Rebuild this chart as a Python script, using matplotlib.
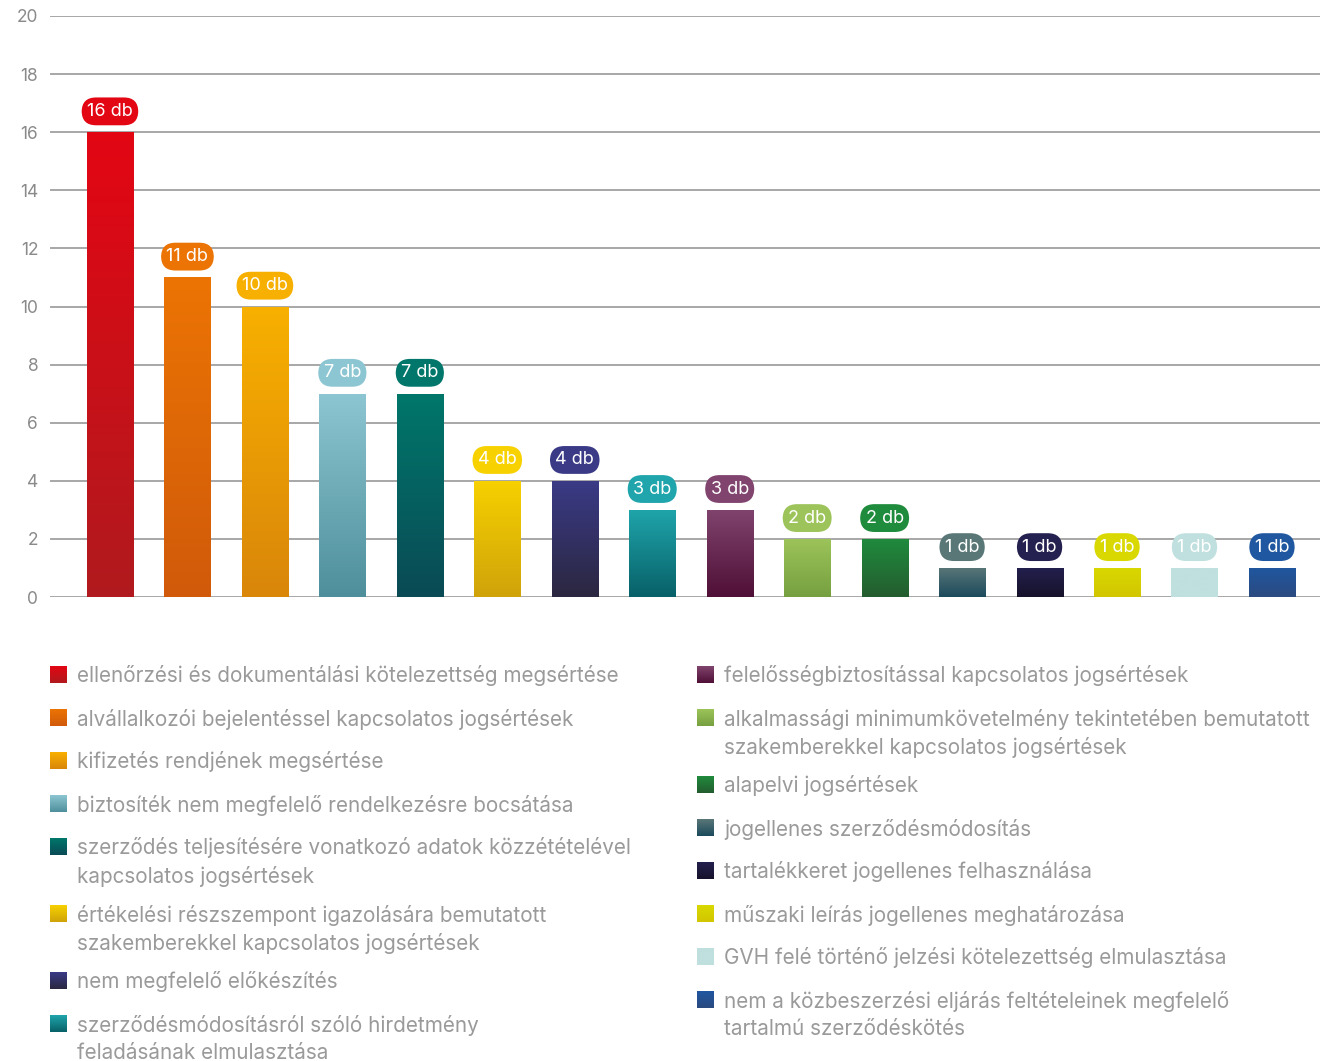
import numpy as np
import matplotlib.pyplot as plt
from matplotlib.colors import LinearSegmentedColormap

plt.rcParams['font.family'] = ['Inter', 'DejaVu Sans']

# ── Adatok ────────────────────────────────────────────────
categories = [
    "ellenőrzési és dokumentálási kötelezettség megsértése",
    "alvállalkozói bejelentéssel kapcsolatos jogsértések",
    "kifizetés rendjének megsértése",
    "biztosíték nem megfelelő rendelkezésre bocsátása",
    "szerződés teljesítésére vonatkozó adatok közzétételével\nkapcsolatos jogsértések",
    "értékelési részszempont igazolására bemutatott\nszakemberekkel kapcsolatos jogsértések",
    "nem megfelelő előkészítés",
    "szerződésmódosításról szóló hirdetmény\nfeladásának elmulasztása",
    "felelősségbiztosítással kapcsolatos jogsértések",
    "alkalmassági minimumkövetelmény tekintetében bemutatott\nszakemberekkel kapcsolatos jogsértések",
    "alapelvi jogsértések",
    "jogellenes szerződésmódosítás",
    "tartalékkeret jogellenes felhasználása",
    "műszaki leírás jogellenes meghatározása",
    "GVH felé történő jelzési kötelezettség elmulasztása",
    "nem a közbeszerzési eljárás feltételeinek megfelelő\ntartalmú szerződéskötés",
]
values = [16, 11, 10, 7, 7, 4, 4, 3, 3, 2, 2, 1, 1, 1, 1, 1]
labels = [f"{v} db" for v in values]

top_colors = ["#e30613", "#ec7404", "#f8b000", "#8cc6d2", "#00776a", "#f7d100",
              "#3a3a87", "#1fa5ab", "#80446e", "#9dc45a", "#1f8b3d", "#5a7778",
              "#24204f", "#d9d800", "#bfe0de", "#1f57a0"]
bottom_colors = ["#b01a1e", "#d05a0a", "#d9860a", "#4e8f9b", "#0a4a55", "#cfa30a",
                 "#2b2740", "#086068", "#4f0f36", "#76a040", "#245c2f", "#1b4a5c",
                 "#16122a", "#d2c600", "#bfe0de", "#2b4a80"]

W, H = 1320, 1061
fig = plt.figure(figsize=(W / 100, H / 100), dpi=100)

# ── Diagram ───────────────────────────────────────────────
ax = fig.add_axes([50 / W, 1 - 597 / H, 1 - 50 / W, (597 - 16) / H])
x = np.arange(len(values))
ax.set_yticks(np.arange(0, 21, 2))
ax.set_xticks([])
ax.grid(axis='y', color='#a0a0a0', linewidth=1.3)
ax.set_axisbelow(True)
for s in ax.spines.values():
    s.set_visible(False)
ax.tick_params(axis='y', length=0, pad=8.5, labelsize=12.5, labelcolor='#8a8a8a')

grad = np.linspace(0, 1, 256).reshape(-1, 1)
bars = ax.bar(x, values, width=0.594, color='none', zorder=2)
for i, (b, v) in enumerate(zip(bars, values)):
    cmap = LinearSegmentedColormap.from_list(f"g{i}", [bottom_colors[i], top_colors[i]])
    x0 = b.get_x()
    im = ax.imshow(grad, cmap=cmap, origin='lower', aspect='auto',
                   extent=(x0, x0 + b.get_width(), 0, v), zorder=2)
    im.set_clip_path(b)
    ax.annotate(labels[i], (b.get_x() + b.get_width() / 2, v), xytext=(0, 15),
                textcoords='offset points', ha='center', va='center',
                fontsize=13, color='white', zorder=3,
                bbox=dict(boxstyle='round,pad=0.3,rounding_size=0.8',
                          fc=top_colors[i], ec='none'))
ax.set_xlim(-0.774, 15.62)
ax.set_ylim(0, 20)

# ── Jelmagyarázat ─────────────────────────────────────────
lg = fig.add_axes([0, 0, 1, 1])
lg.axis('off')

sq = 17
for idx, xs in [(range(0, 8), 50), (range(8, 16), 697)]:
    y = 675
    for i in idx:
        n = categories[i].count("\n") + 1
        cmap = LinearSegmentedColormap.from_list(f"l{i}", [bottom_colors[i], top_colors[i]])
        lg.imshow(grad, cmap=cmap, origin='lower', aspect='auto',
                  extent=(xs, xs + sq, y + sq / 2, y - sq / 2))
        lg.text(xs + 27, y - 9.5, categories[i], fontsize=14.9, color='#9a9a9a',
                ha='left', va='top', linespacing=1.45)
        y += 43 + 24 * (n - 1)
lg.set_xlim(0, W)
lg.set_ylim(H, 0)

fig.savefig("out.png", dpi=100)
